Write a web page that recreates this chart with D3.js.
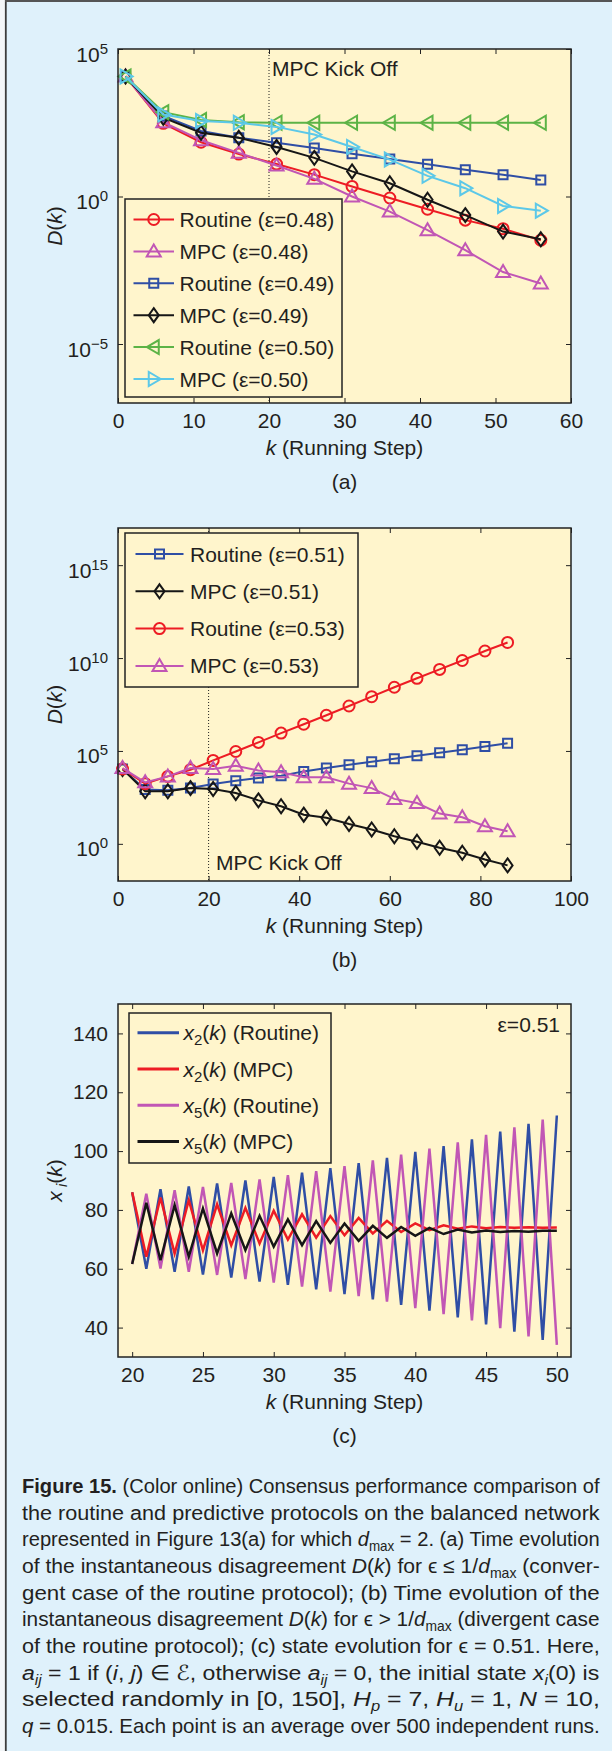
<!DOCTYPE html>
<html><head><meta charset="utf-8">
<script src="https://cdn.jsdelivr.net/npm/d3@7"></script>
<style>body{margin:0;background:#dff1fb;} svg{display:block;}</style>
</head><body>
<svg id="fig" width="612" height="1751"></svg>
<script>
// ---------------- DATA ----------------
// Panel (a): D(k), eps <= 1/dmax
const kA = [1, 6, 11, 16, 21, 26, 31, 36, 41, 46, 51, 56];
const aRoutine048 = [1.17e4, 302, 69, 27.5, 12.6, 5.5, 2.19, 0.89, 0.37, 0.158, 0.081, 0.033];
const aMPC048     = [1.17e4, 331, 81, 30.2, 11.2, 3.98, 1.0, 0.309, 0.0724, 0.0151, 0.00275, 0.00112];
const aRoutine049 = [1.17e4, 537, 166, 97.7, 66.1, 43.7, 28.2, 18.6, 12.3, 8.13, 5.5, 3.63];
const aMPC049     = [1.17e4, 468, 145, 97.7, 47.9, 20.4, 7.08, 2.82, 0.776, 0.234, 0.0646, 0.0355];
const aRoutine050 = [1.17e4, 724, 389, 331, 316, 316, 316, 316, 316, 316, 316, 316];
const aMPC050     = [1.17e4, 603, 363, 316, 229, 126, 47.9, 17.8, 5.01, 1.91, 0.479, 0.331];
const legendA = ["Routine (ε=0.48)", "MPC (ε=0.48)", "Routine (ε=0.49)", "MPC (ε=0.49)", "Routine (ε=0.50)", "MPC (ε=0.50)"];
const xTicksA = [0, 10, 20, 30, 40, 50, 60];
const yTicksA = [1e-5, 1e0, 1e5];

// Panel (b): D(k), eps > 1/dmax
const kB = [1, 6, 11, 16, 21, 26, 31, 36, 41, 46, 51, 56, 61, 66, 71, 76, 81, 86];
const bRoutine051 = [1.07e4, 832, 759, 1.0e3, 1.66e3, 2.51e3, 3.47e3, 4.68e3, 7.94e3, 1.2e4, 1.82e4, 2.63e4, 3.8e4, 5.5e4, 7.94e4, 1.15e5, 1.74e5, 2.63e5];
const bMPC051     = [1.07e4, 676, 676, 1.0e3, 891, 550, 219, 105, 37.2, 25.1, 11.7, 5.89, 2.57, 1.29, 0.617, 0.331, 0.145, 0.0692];
const bRoutine053 = [1.07e4, 1.74e3, 4.27e3, 9.77e3, 3.09e4, 9.33e4, 2.88e5, 9.12e5, 2.75e6, 8.32e6, 2.63e7, 8.32e7, 2.69e8, 8.13e8, 2.45e9, 7.41e9, 2.4e10, 6.92e10];
const bMPC053     = [1.2e4, 2.04e3, 4.27e3, 1.2e4, 1.07e4, 1.58e4, 8.91e3, 7.08e3, 3.8e3, 3.8e3, 1.74e3, 1.0e3, 263, 158, 42.7, 26.9, 8.91, 4.79];
const legendB = ["Routine (ε=0.51)", "MPC (ε=0.51)", "Routine (ε=0.53)", "MPC (ε=0.53)"];
const xTicksB = [0, 20, 40, 60, 80, 100];
const yTicksB = [1e0, 1e5, 1e10, 1e15];

// Panel (c): states, eps = 0.51
const kC = [20, 21, 22, 23, 24, 25, 26, 27, 28, 29, 30, 31, 32, 33, 34, 35, 36, 37, 38, 39, 40, 41, 42, 43, 44, 45, 46, 47, 48, 49, 50];
const x2Routine = [86, 60, 87, 59, 88, 58, 89, 57, 90, 55.6, 91.2, 54.5, 92.7, 53, 94.2, 51.4, 95.9, 49.6, 97.7, 47.7, 99.7, 45.8, 101.7, 43.5, 104, 41.1, 106.6, 38.6, 109.3, 35.8, 112.1];
const x2MPC     = [86, 64.1, 84.2, 65.2, 83.3, 66.3, 81.9, 68.0, 80.7, 68.6, 79.7, 69.9, 78.5, 70.6, 77.9, 71.4, 77.3, 72.0, 76.3, 72.5, 75.4, 73.1, 74.8, 73.6, 74.4, 73.8, 74.2, 73.9, 74.1, 73.9, 74.0];
const x5Routine = [61.6, 85.5, 60.1, 86.7, 59, 87.8, 57.9, 89.2, 56.5, 90.4, 55.3, 91.8, 53.9, 93.2, 52.2, 94.9, 50.7, 96.8, 48.8, 98.8, 46.6, 100.8, 44.6, 103, 42.4, 105.5, 39.8, 108.1, 37, 110.7, 34.1];
const x5MPC     = [61.6, 82.4, 62.9, 81.6, 64.1, 80.5, 65.2, 78.8, 66.3, 78.0, 67.5, 76.8, 68.0, 76.2, 68.8, 75.4, 69.5, 74.6, 70.5, 74.2, 71.2, 73.9, 71.8, 73.3, 72.3, 73.0, 72.5, 72.8, 72.6, 72.9, 72.9];
const legendC = [["x", "2", " (Routine)"], ["x", "2", " (MPC)"], ["x", "5", " (Routine)"], ["x", "5", " (MPC)"]];
const xTicksC = [20, 25, 30, 35, 40, 45, 50];
const yTicksC = [40, 60, 80, 100, 120, 140];

// ---------------- STYLE ----------------
const FONT = "'Liberation Sans', Arial, Helvetica, sans-serif";
const PAGE_BG = "#dff1fb", PLOT_BG = "#fff5cc", AXIS = "#222", TEXT = "#231f20";
const RED = "#ed1c24", MAG = "#c156b5", BLUE = "#2f4ea5", BLACK = "#161616", GREEN = "#5cb346", CYAN = "#5cc8e8";
const L = 118, R = 571;

const svg = d3.select("#fig");
svg.append("rect").attr("width", 612).attr("height", 1751).attr("fill", PAGE_BG);
svg.append("rect").attr("width", 5).attr("height", 1751).attr("fill", "#f3f6f8");
svg.append("line").attr("x1", 5.8).attr("x2", 5.8).attr("y1", 0).attr("y2", 1751).attr("stroke", "#3c3c3c").attr("stroke-width", 1.8);
svg.append("line").attr("x1", 5).attr("x2", 612).attr("y1", 1).attr("y2", 1).attr("stroke", "#555").attr("stroke-width", 2);

function markerPath(type) {
  switch (type) {
    case "circle": return "M5.5,0A5.5,5.5 0 1,1 -5.5,0A5.5,5.5 0 1,1 5.5,0Z";
    case "square": return "M-4.5,-4.5H4.5V4.5H-4.5Z";
    case "diamond": return "M0,-7L5,0L0,7L-5,0Z";
    case "up": return "M0,-7L7,5L-7,5Z";
    case "left": return "M-7,0L5,-7L5,7Z";
    case "right": return "M7,0L-5,-7L-5,7Z";
  }
  return "";
}

function drawPanel(cfg) {
  const g = svg.append("g");
  const x = d3.scaleLinear().domain(cfg.xDomain).range([L, R]);
  const y = (cfg.log ? d3.scaleLog() : d3.scaleLinear()).domain(cfg.yDomain).range([cfg.bottom, cfg.top]);
  g.append("rect").attr("x", L).attr("y", cfg.top).attr("width", R - L).attr("height", cfg.bottom - cfg.top).attr("fill", PLOT_BG);

  const ax = (axis, tx, ty) => {
    const a = g.append("g").attr("transform", `translate(${tx},${ty})`).call(axis);
    a.select(".domain").remove();
    a.selectAll("line").attr("stroke", AXIS).attr("stroke-width", 1);
    a.selectAll("text").attr("font-family", FONT).attr("font-size", 21).attr("fill", TEXT);
    return a;
  };
  ax(d3.axisBottom(x).tickValues(cfg.xTicks).tickSize(-5).tickPadding(10).tickFormat(d3.format("d")), 0, cfg.bottom);
  ax(d3.axisTop(x).tickValues(cfg.xTicks).tickSize(-5).tickFormat(() => ""), 0, cfg.top);
  const yl = ax(d3.axisLeft(y).tickValues(cfg.yTicks).tickSize(-5).tickPadding(10)
    .tickFormat(cfg.log ? () => "" : d3.format("d")), L, 0);
  ax(d3.axisRight(y).tickValues(cfg.yTicks).tickSize(-5).tickFormat(() => ""), R, 0);
  if (cfg.log) {
    yl.selectAll(".tick text").each(function (d) {
      const t = d3.select(this);
      t.text(null).attr("dy", null).attr("y", 12);
      t.append("tspan").text("10");
      t.append("tspan").attr("dy", -8).attr("font-size", 15)
        .text(String(Math.round(Math.log10(d))).replace("-", "\u2212"));
    });
  }

  // kick-off line
  if (cfg.kick) {
    g.append("line").attr("x1", x(20)).attr("x2", x(20)).attr("y1", cfg.top).attr("y2", cfg.bottom)
      .attr("stroke", "#222").attr("stroke-width", 1).attr("stroke-dasharray", "1,2");
    g.append("text").attr("x", cfg.kick.x).attr("y", cfg.kick.y).attr("font-family", FONT).attr("font-size", 21)
      .attr("fill", TEXT).text("MPC Kick Off");
  }

  // series
  const line = d3.line().x(d => x(d[0])).y(d => y(d[1]));
  cfg.series.forEach(s => {
    const pts = s.k.map((k, i) => [k, s.v[i]]);
    g.append("path").datum(pts).attr("d", line).attr("fill", "none").attr("stroke", s.color)
      .attr("stroke-width", s.width || 2).attr("stroke-linejoin", "miter");
    if (s.marker) {
      g.selectAll(null).data(pts).enter().append("path")
        .attr("transform", d => `translate(${x(d[0])},${y(d[1])})`)
        .attr("d", markerPath(s.marker)).attr("fill", "none").attr("stroke", s.color).attr("stroke-width", 2);
    }
  });

  // plot frame
  g.append("rect").attr("x", L).attr("y", cfg.top).attr("width", R - L).attr("height", cfg.bottom - cfg.top)
    .attr("fill", "none").attr("stroke", AXIS).attr("stroke-width", 1.5);

  // legend
  const lg = cfg.legend;
  g.append("rect").attr("x", lg.x0).attr("y", lg.y0).attr("width", lg.x1 - lg.x0).attr("height", lg.y1 - lg.y0)
    .attr("fill", PLOT_BG).attr("stroke", AXIS).attr("stroke-width", 1.5);
  cfg.series.forEach((s, i) => {
    const cy = lg.first + i * lg.step;
    g.append("line").attr("x1", lg.l0).attr("x2", lg.l1).attr("y1", cy).attr("y2", cy)
      .attr("stroke", s.color).attr("stroke-width", s.width ? 3 : 2);
    if (s.marker) {
      g.append("path").attr("transform", `translate(${(lg.l0 + lg.l1) / 2},${cy})`).attr("d", markerPath(s.marker))
        .attr("fill", "none").attr("stroke", s.color).attr("stroke-width", 2);
    }
    const t = g.append("text").attr("x", lg.tx).attr("y", cy + 7.5).attr("font-family", FONT)
      .attr("font-size", 21).attr("fill", TEXT);
    if (Array.isArray(s.name)) {
      t.append("tspan").attr("font-style", "italic").text(s.name[0]);
      t.append("tspan").attr("font-size", 15).attr("dy", 5).text(s.name[1]);
      t.append("tspan").attr("dy", -5).text("(");
      t.append("tspan").attr("font-style", "italic").text("k");
      t.append("tspan").text(")" + s.name[2]);
    } else t.text(s.name);
  });

  // axis titles
  const xt = g.append("text").attr("x", (L + R) / 2).attr("y", cfg.bottom + 52).attr("text-anchor", "middle")
    .attr("font-family", FONT).attr("font-size", 21).attr("fill", TEXT);
  xt.append("tspan").attr("font-style", "italic").text("k");
  xt.append("tspan").text(" (Running Step)");
  const yt = g.append("text").attr("transform", `translate(62,${(cfg.top + cfg.bottom) / 2}) rotate(-90)`)
    .attr("text-anchor", "middle").attr("font-family", FONT).attr("font-size", 21).attr("fill", TEXT);
  cfg.yTitle(yt);
  g.append("text").attr("x", (L + R) / 2).attr("y", cfg.bottom + 86).attr("text-anchor", "middle")
    .attr("font-family", FONT).attr("font-size", 21).attr("fill", TEXT).text(cfg.label);
  if (cfg.extra) cfg.extra(g);
}

const dTitle = t => {
  t.append("tspan").attr("font-style", "italic").text("D");
  t.append("tspan").text("(");
  t.append("tspan").attr("font-style", "italic").text("k");
  t.append("tspan").text(")");
};

drawPanel({
  top: 49, bottom: 403, xDomain: [0, 60], xTicks: xTicksA, log: true, yDomain: [1e-7, 1e5], yTicks: yTicksA,
  kick: { x: 272, y: 76 }, label: "(a)", yTitle: dTitle,
  series: [
    { name: legendA[0], k: kA, v: aRoutine048, color: RED, marker: "circle" },
    { name: legendA[1], k: kA, v: aMPC048, color: MAG, marker: "up" },
    { name: legendA[2], k: kA, v: aRoutine049, color: BLUE, marker: "square" },
    { name: legendA[3], k: kA, v: aMPC049, color: BLACK, marker: "diamond" },
    { name: legendA[4], k: kA, v: aRoutine050, color: GREEN, marker: "left" },
    { name: legendA[5], k: kA, v: aMPC050, color: CYAN, marker: "right" }
  ],
  legend: { x0: 125, x1: 342, y0: 199, y1: 397, first: 219.5, step: 31.9, l0: 133.5, l1: 174, tx: 179.5 }
});

drawPanel({
  top: 528, bottom: 881, xDomain: [0, 100], xTicks: xTicksB, log: true, yDomain: [1e-2, 1e17], yTicks: yTicksB,
  kick: { x: 216, y: 870 }, label: "(b)", yTitle: dTitle,
  series: [
    { name: legendB[0], k: kB, v: bRoutine051, color: BLUE, marker: "square" },
    { name: legendB[1], k: kB, v: bMPC051, color: BLACK, marker: "diamond" },
    { name: legendB[2], k: kB, v: bRoutine053, color: RED, marker: "circle" },
    { name: legendB[3], k: kB, v: bMPC053, color: MAG, marker: "up" }
  ],
  legend: { x0: 125, x1: 358, y0: 533, y1: 687, first: 554, step: 37.3, l0: 135.5, l1: 183.5, tx: 190 }
});

drawPanel({
  top: 1004, bottom: 1357, xDomain: [19, 51], xTicks: xTicksC, log: false, yDomain: [30, 150], yTicks: yTicksC,
  label: "(c)",
  yTitle: t => {
    t.append("tspan").attr("font-style", "italic").text("x");
    t.append("tspan").attr("font-style", "italic").attr("font-size", 15).attr("dy", 5).text(" i");
    t.append("tspan").attr("dy", -5).text("(");
    t.append("tspan").attr("font-style", "italic").text("k");
    t.append("tspan").text(")");
  },
  series: [
    { name: legendC[0], k: kC, v: x2Routine, color: BLUE, width: 2.5 },
    { name: legendC[1], k: kC, v: x2MPC, color: RED, width: 2.5 },
    { name: legendC[2], k: kC, v: x5Routine, color: MAG, width: 2.5 },
    { name: legendC[3], k: kC, v: x5MPC, color: BLACK, width: 2.5 }
  ],
  legend: { x0: 129, x1: 331, y0: 1013, y1: 1163, first: 1032.7, step: 36.3, l0: 137.5, l1: 179, tx: 183.5 },
  extra: g => g.append("text").attr("x", 560).attr("y", 1032).attr("text-anchor", "end")
    .attr("font-family", FONT).attr("font-size", 21).attr("fill", TEXT).text("ε=0.51")
});

// ---------------- CAPTION ----------------
const captionLines = [
  [["Figure 15.", "b"], [" (Color online) Consensus performance comparison of"]],
  [["the routine and predictive protocols on the balanced network"]],
  [["represented in Figure 13(a) for which "], ["d", "i"], ["max", "s"], [" = 2. (a) Time evolution"]],
  [["of the instantaneous disagreement "], ["D", "i"], ["("], ["k", "i"], [") for ϵ ≤ 1/"], ["d", "i"], ["max", "s"], [" (conver-"]],
  [["gent case of the routine protocol); (b) Time evolution of the"]],
  [["instantaneous disagreement "], ["D", "i"], ["("], ["k", "i"], [") for ϵ > 1/"], ["d", "i"], ["max", "s"], [" (divergent case"]],
  [["of the routine protocol); (c) state evolution for ϵ = 0.51. Here,"]],
  [["a", "i"], ["ij", "si"], [" = 1 if ("], ["i", "i"], [", "], ["j", "i"], [") ∈ ℰ, otherwise "], ["a", "i"], ["ij", "si"], [" = 0, the initial state "], ["x", "i"], ["i", "si"], ["(0) is"]],
  [["selected randomly in [0, 150], "], ["H", "i"], ["p", "si"], [" = 7, "], ["H", "i"], ["u", "si"], [" = 1, "], ["N", "i"], [" = 10,"]],
  [["q", "i"], [" = 0.015. Each point is an average over 500 independent runs."]]
];
const CAP_X = 22, CAP_W = 578;
captionLines.forEach((segs, li) => {
  const t = svg.append("text").attr("x", 0).attr("y", 0)
    .attr("font-family", "'Liberation Sans Narrow', 'Liberation Sans', Arial, sans-serif")
    .attr("font-size", 21).attr("fill", TEXT);
  let shift = 0;
  segs.forEach(([txt, st]) => {
    st = st || "";
    const sub = st.includes("s");
    const target = sub ? 5 : 0;
    const ts = t.append("tspan").text(txt);
    if (target !== shift) { ts.attr("dy", target - shift); shift = target; }
    if (sub) ts.attr("font-size", 14);
    if (st.includes("b")) ts.attr("font-weight", "bold");
    if (st === "i" || st === "si") ts.attr("font-style", "italic");
  });
  const natural = t.node().getComputedTextLength();
  const sx = CAP_W / natural;
  t.attr("transform", `translate(${CAP_X},${1493 + li * 26.67}) scale(${sx},1)`);
});
</script>
</body></html>
